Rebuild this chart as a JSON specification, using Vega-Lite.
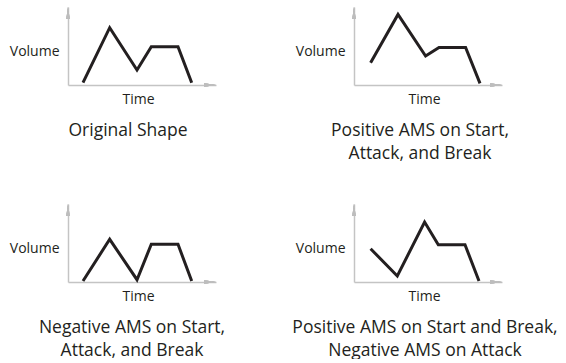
{
  "$schema": "https://vega.github.io/schema/vega-lite/v6.json",
  "padding": {"left": 9, "top": 6, "right": 0, "bottom": 0},
  "background": "white",
  "datasets": {
    "env": [
      {"panel": 1, "t": 15, "v": 2.3}, {"panel": 1, "t": 41.7, "v": 57.3}, {"panel": 1, "t": 69, "v": 15}, {"panel": 1, "t": 83.3, "v": 38.3}, {"panel": 1, "t": 110, "v": 38.3}, {"panel": 1, "t": 123.7, "v": 2.3},
      {"panel": 2, "t": 16.6, "v": 22.3}, {"panel": 2, "t": 44, "v": 70.6}, {"panel": 2, "t": 71.6, "v": 29}, {"panel": 2, "t": 85, "v": 37.6}, {"panel": 2, "t": 111.6, "v": 37.6}, {"panel": 2, "t": 126, "v": 1.6},
      {"panel": 3, "t": 15, "v": 1}, {"panel": 3, "t": 41.7, "v": 42.7}, {"panel": 3, "t": 69, "v": 2.3}, {"panel": 3, "t": 83.3, "v": 37.7}, {"panel": 3, "t": 110, "v": 37.7}, {"panel": 3, "t": 123.7, "v": 1},
      {"panel": 4, "t": 16.6, "v": 33.3}, {"panel": 4, "t": 43.3, "v": 6}, {"panel": 4, "t": 70.6, "v": 60}, {"panel": 4, "t": 84.3, "v": 37.3}, {"panel": 4, "t": 111, "v": 37.3}, {"panel": 4, "t": 125, "v": 1}
    ]
  },
  "columns": 2,
  "spacing": {"row": 119, "column": 138},
  "bounds": "flush",
  "concat": [
    {
      "width": 148, "height": 78,
      "title": {"text": "Original Shape", "dx": -14},
      "data": {"name": "env"},
      "transform": [{"filter": "datum.panel == 1"}],
      "layer": [
        {"mark": {"type": "line", "color": "#231f20", "strokeWidth": 3, "strokeJoin": "miter", "strokeCap": "butt"},
         "encoding": {"x": {"field": "t", "type": "quantitative", "scale": {"domain": [0, 148], "nice": false, "zero": false}, "axis": {"title": "Time"}},
                      "y": {"field": "v", "type": "quantitative", "scale": {"domain": [0, 78], "nice": false, "zero": false}, "axis": {"title": "Volume"}}}},
        {"mark": {"type": "point", "shape": "M0,-1L0.28,1L-0.28,1Z", "size": 144, "filled": true, "color": "#bdbdbd", "opacity": 1},
         "encoding": {"x": {"datum": 0, "type": "quantitative"}, "y": {"datum": 72, "type": "quantitative"}}},
        {"mark": {"type": "point", "shape": "M1,0L-1,0.28L-1,-0.28Z", "size": 144, "filled": true, "color": "#bdbdbd", "opacity": 1},
         "encoding": {"x": {"datum": 142, "type": "quantitative"}, "y": {"datum": 0, "type": "quantitative"}}}
      ]
    },
    {
      "width": 148, "height": 78,
      "title": {"text": ["Positive AMS on Start,", "Attack, and Break"], "dx": -8},
      "data": {"name": "env"},
      "transform": [{"filter": "datum.panel == 2"}],
      "layer": [
        {"mark": {"type": "line", "color": "#231f20", "strokeWidth": 3, "strokeJoin": "miter", "strokeCap": "butt"},
         "encoding": {"x": {"field": "t", "type": "quantitative", "scale": {"domain": [0, 148], "nice": false, "zero": false}, "axis": {"title": "Time"}},
                      "y": {"field": "v", "type": "quantitative", "scale": {"domain": [0, 78], "nice": false, "zero": false}, "axis": {"title": "Volume"}}}},
        {"mark": {"type": "point", "shape": "M0,-1L0.28,1L-0.28,1Z", "size": 144, "filled": true, "color": "#bdbdbd", "opacity": 1},
         "encoding": {"x": {"datum": 0, "type": "quantitative"}, "y": {"datum": 72, "type": "quantitative"}}},
        {"mark": {"type": "point", "shape": "M1,0L-1,0.28L-1,-0.28Z", "size": 144, "filled": true, "color": "#bdbdbd", "opacity": 1},
         "encoding": {"x": {"datum": 142, "type": "quantitative"}, "y": {"datum": 0, "type": "quantitative"}}}
      ]
    },
    {
      "width": 148, "height": 78,
      "title": {"text": ["Negative AMS on Start,", "Attack, and Break"], "dx": -10},
      "data": {"name": "env"},
      "transform": [{"filter": "datum.panel == 3"}],
      "layer": [
        {"mark": {"type": "line", "color": "#231f20", "strokeWidth": 3, "strokeJoin": "miter", "strokeCap": "butt"},
         "encoding": {"x": {"field": "t", "type": "quantitative", "scale": {"domain": [0, 148], "nice": false, "zero": false}, "axis": {"title": "Time"}},
                      "y": {"field": "v", "type": "quantitative", "scale": {"domain": [0, 78], "nice": false, "zero": false}, "axis": {"title": "Volume"}}}},
        {"mark": {"type": "point", "shape": "M0,-1L0.28,1L-0.28,1Z", "size": 144, "filled": true, "color": "#bdbdbd", "opacity": 1},
         "encoding": {"x": {"datum": 0, "type": "quantitative"}, "y": {"datum": 72, "type": "quantitative"}}},
        {"mark": {"type": "point", "shape": "M1,0L-1,0.28L-1,-0.28Z", "size": 144, "filled": true, "color": "#bdbdbd", "opacity": 1},
         "encoding": {"x": {"datum": 142, "type": "quantitative"}, "y": {"datum": 0, "type": "quantitative"}}}
      ]
    },
    {
      "width": 148, "height": 78,
      "title": {"text": ["Positive AMS on Start and Break,", "Negative AMS on Attack"], "dx": -3},
      "data": {"name": "env"},
      "transform": [{"filter": "datum.panel == 4"}],
      "layer": [
        {"mark": {"type": "line", "color": "#231f20", "strokeWidth": 3, "strokeJoin": "miter", "strokeCap": "butt"},
         "encoding": {"x": {"field": "t", "type": "quantitative", "scale": {"domain": [0, 148], "nice": false, "zero": false}, "axis": {"title": "Time"}},
                      "y": {"field": "v", "type": "quantitative", "scale": {"domain": [0, 78], "nice": false, "zero": false}, "axis": {"title": "Volume"}}}},
        {"mark": {"type": "point", "shape": "M0,-1L0.28,1L-0.28,1Z", "size": 144, "filled": true, "color": "#bdbdbd", "opacity": 1},
         "encoding": {"x": {"datum": 0, "type": "quantitative"}, "y": {"datum": 72, "type": "quantitative"}}},
        {"mark": {"type": "point", "shape": "M1,0L-1,0.28L-1,-0.28Z", "size": 144, "filled": true, "color": "#bdbdbd", "opacity": 1},
         "encoding": {"x": {"datum": 142, "type": "quantitative"}, "y": {"datum": 0, "type": "quantitative"}}}
      ]
    }
  ],
  "config": {
    "font": "Open Sans",
    "view": {"stroke": null},
    "axis": {"grid": false, "ticks": false, "labels": false, "domainColor": "#c4c4c4", "domainWidth": 1.5,
             "titleFont": "Open Sans", "titleFontSize": 14, "titleFontWeight": "normal", "titleColor": "#231f20"},
    "axisX": {"titleX": 70, "titleY": 14.5, "titleBaseline": "middle", "titleAlign": "center"},
    "axisY": {"titleAngle": 0, "titleAlign": "right", "titleBaseline": "middle", "titleX": -9, "titleY": 44.5},
    "title": {"orient": "bottom", "anchor": "middle", "frame": "group", "font": "Open Sans", "fontSize": 17.5, "fontWeight": "normal", "color": "#231f20", "lineHeight": 23, "offset": 15, "baseline": "top"}
  }
}
